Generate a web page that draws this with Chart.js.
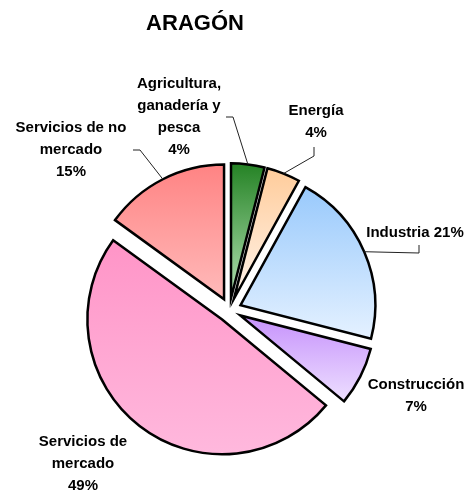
<!DOCTYPE html>
<html>
<head>
<meta charset="utf-8">
<script src="https://cdn.jsdelivr.net/npm/chart.js@4/dist/chart.umd.min.js"></script>
<style>
  html, body { margin: 0; padding: 0; background: #fff; }
  #wrap { width: 473px; height: 495px; position: relative; }
</style>
</head>
<body>
<div id="wrap"><canvas id="pieChart" width="473" height="495"></canvas></div>
<script>
const TITLE = 'ARAGÓN';
const categories = ['Agricultura, ganadería y pesca', 'Energía', 'Industria', 'Construcción', 'Servicios de mercado', 'Servicios de no mercado'];
const shares = [4, 4, 21, 7, 49, 15];

const topColors    = ['#187a18', '#ffc994', '#96c8fc', '#c896fc', '#ff96c8', '#ff7f7f'];
const bottomColors = ['#a6d8a6', '#fff0e4', '#e2f0ff', '#f0e4ff', '#ffbade', '#ffb6b6'];

const BORDER = 2.5;
const EXPLODE = 12;
const FONT = 'bold 15px "Liberation Sans", Arial, sans-serif';

// label blocks: text lines (percentage appended from shares), centre x, first line y, leader path
const labelLayout = [
  { lines: ['Agricultura,', 'ganadería y', 'pesca'], x: 179, y: 84, leader: [[233, 117], [226, 117]] },
  { lines: ['Energía'], x: 316, y: 111, leader: [[314, 156], [314, 147]] },
  { lines: [], inline: 'Industria', x: 415, y: 233, leader: [[419, 253], [419, 245]] },
  { lines: ['Construcción'], x: 416, y: 385, leader: null },
  { lines: ['Servicios de', 'mercado'], x: 83, y: 442, leader: null },
  { lines: ['Servicios de no', 'mercado'], x: 71, y: 128, leader: [[140, 150], [133, 150]] }
];

const total = shares.reduce((a, b) => a + b, 0);

function sliceAngles(i) {
  const before = shares.slice(0, i).reduce((a, b) => a + b, 0);
  const start = -Math.PI / 2 + 2 * Math.PI * before / total;
  const end = start + 2 * Math.PI * shares[i] / total;
  return { start, end };
}

// vertical gradient over the bounding box of each exploded slice
function sliceGradient(context) {
  const i = context.dataIndex;
  const chart = context.chart;
  const area = chart.chartArea;
  if (!area) return topColors[i];
  const cx = (area.left + area.right) / 2;
  const cy = (area.top + area.bottom) / 2;
  const r = (Math.min(area.width, area.height) - BORDER) / 2;
  const { start, end } = sliceAngles(i);
  const mid = (start + end) / 2;
  const ys = [cy, cy + r * Math.sin(start), cy + r * Math.sin(end)];
  if (start <= Math.PI / 2 && end >= Math.PI / 2) ys.push(cy + r);
  if (start <= -Math.PI / 2 || end >= 3 * Math.PI / 2) ys.push(cy - r);
  const dy = Math.sin(mid) * EXPLODE;
  const g = chart.ctx.createLinearGradient(0, Math.min(...ys) + dy, 0, Math.max(...ys) + dy);
  g.addColorStop(0, topColors[i]);
  g.addColorStop(1, bottomColors[i]);
  return g;
}

// pulls every slice out along its middle angle
const explodePlugin = {
  id: 'explode',
  beforeDatasetDraw(chart, args) {
    const ctx = chart.ctx;
    args.meta.data.forEach(arc => {
      const mid = (arc.startAngle + arc.endAngle) / 2;
      ctx.save();
      ctx.translate(Math.cos(mid) * EXPLODE, Math.sin(mid) * EXPLODE);
      arc.draw(ctx);
      ctx.restore();
    });
    return false;
  }
};

const labelsPlugin = {
  id: 'sliceLabels',
  afterDraw(chart) {
    const ctx = chart.ctx;
    const meta = chart.getDatasetMeta(0);
    ctx.save();

    ctx.fillStyle = '#000';
    ctx.font = 'bold 22px "Liberation Sans", Arial, sans-serif';
    ctx.textAlign = 'center';
    ctx.textBaseline = 'middle';
    ctx.fillText(TITLE, 195, 24);

    ctx.font = FONT;
    labelLayout.forEach((lab, i) => {
      const pct = shares[i] + '%';
      const lines = lab.inline ? [lab.inline + ' ' + pct] : lab.lines.concat([pct]);
      lines.forEach((t, k) => ctx.fillText(t, lab.x, lab.y + k * 22));

      if (lab.leader) {
        const arc = meta.data[i];
        const mid = (arc.startAngle + arc.endAngle) / 2;
        const rr = arc.outerRadius + EXPLODE;
        ctx.beginPath();
        ctx.moveTo(arc.x + Math.cos(mid) * rr, arc.y + Math.sin(mid) * rr);
        lab.leader.forEach(p => ctx.lineTo(p[0], p[1]));
        ctx.strokeStyle = '#222';
        ctx.lineWidth = 1;
        ctx.stroke();
      }
    });
    ctx.restore();
  }
};

new Chart(document.getElementById('pieChart'), {
  type: 'pie',
  data: {
    labels: categories,
    datasets: [{
      data: shares,
      backgroundColor: sliceGradient,
      borderColor: '#000',
      borderWidth: BORDER,
      borderJoinStyle: 'miter'
    }]
  },
  options: {
    responsive: false,
    animation: false,
    events: [],
    layout: { padding: { left: 93, right: 107, top: 174, bottom: 49 } },
    plugins: {
      legend: { display: false },
      title: { display: false },
      tooltip: { enabled: false }
    }
  },
  plugins: [explodePlugin, labelsPlugin]
});
</script>
</body>
</html>
